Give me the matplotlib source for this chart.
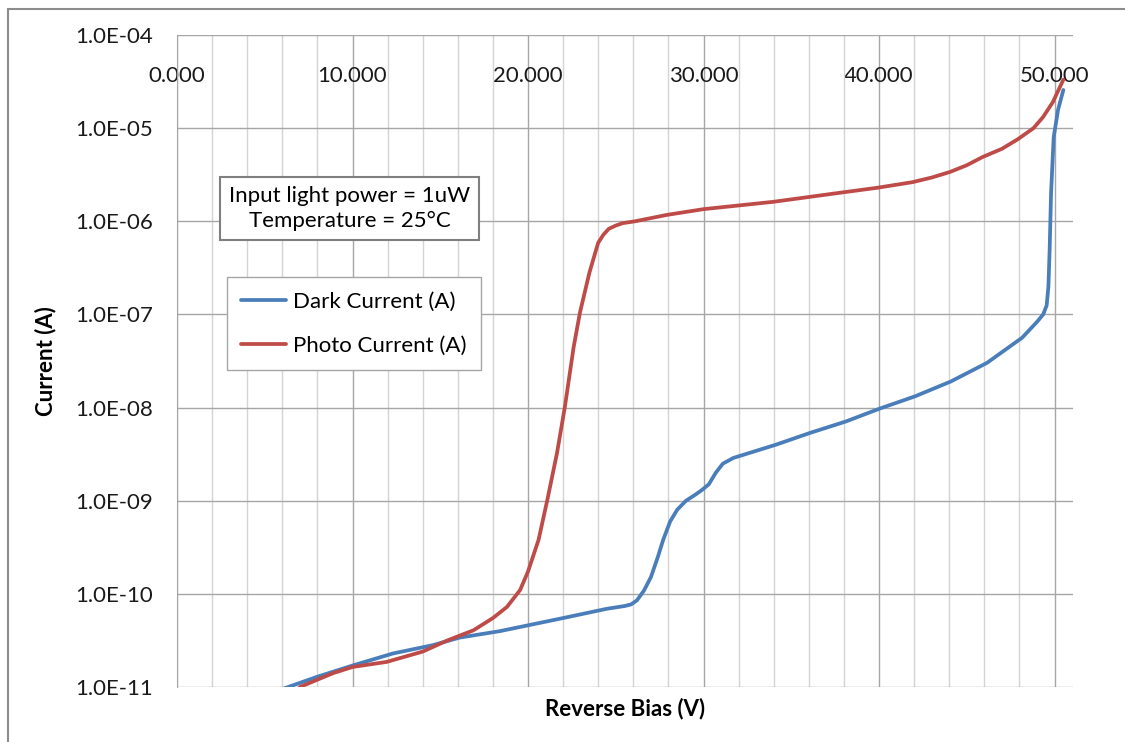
import matplotlib
matplotlib.use("Agg")
import matplotlib.pyplot as plt
from matplotlib.patches import Rectangle
from matplotlib.ticker import FixedLocator, MultipleLocator, FuncFormatter
import numpy as np

plt.rcParams['font.family'] = ['Lato', 'DejaVu Sans']

# reverse bias (V) and current (A)
dark_v = [6.0, 8.0, 10.0, 12.3, 14.6, 16.1, 18.4, 22.0, 24.5, 25.5, 25.87, 26.2, 26.6,
          27.0, 27.4, 27.7, 28.1, 28.5, 29.0, 29.5, 29.9, 30.3, 30.7, 31.1, 31.7,
          34.1, 36.1, 38.1, 40.05, 42.05, 44.1, 46.15, 48.15, 49.0, 49.35, 49.55,
          49.65, 49.72, 49.8, 49.95, 50.2, 50.5]
dark_i = [9.5e-12, 1.29e-11, 1.70e-11, 2.29e-11, 2.82e-11, 3.39e-11, 3.98e-11,
          5.50e-11, 6.92e-11, 7.4e-11, 7.7e-11, 8.5e-11, 1.08e-10, 1.51e-10,
          2.5e-10, 3.8e-10, 6.0e-10, 8.0e-10, 1.0e-9, 1.15e-9, 1.3e-9, 1.5e-9,
          2.0e-9, 2.5e-9, 2.88e-9, 3.98e-9, 5.37e-9, 7.08e-9, 9.77e-9, 1.32e-8,
          1.91e-8, 3.02e-8, 5.62e-8, 8.32e-8, 1.0e-7, 1.25e-7, 2.0e-7, 5.0e-7,
          2.0e-6, 8.0e-6, 1.58e-5, 2.57e-5]

photo_v = [6.9, 7.0, 8.9, 10.0, 11.95, 14.0, 15.4, 16.9, 18.0, 18.8, 19.55, 20.0,
           20.6, 21.1, 21.65, 22.1, 22.6, 22.96, 23.5, 23.8, 24.0, 24.3, 24.6, 25.0,
           25.4, 26.1, 27.9, 30.0, 34.0, 37.9, 39.9, 41.9, 43.0, 44.05, 45.0, 45.9,
           47.0, 47.9, 48.8, 49.35, 49.9, 50.5]
photo_i = [9.5e-12, 1.0e-11, 1.41e-11, 1.64e-11, 1.86e-11, 2.40e-11, 3.16e-11,
           4.07e-11, 5.50e-11, 7.24e-11, 1.10e-10, 1.74e-10, 3.80e-10, 1.02e-9,
           3.24e-9, 1.02e-8, 4.47e-8, 1.05e-7, 2.82e-7, 4.4e-7, 5.89e-7, 7.2e-7,
           8.3e-7, 9.0e-7, 9.55e-7, 1.0e-6, 1.17e-6, 1.35e-6, 1.62e-6, 2.04e-6,
           2.29e-6, 2.63e-6, 2.95e-6, 3.39e-6, 4.0e-6, 4.90e-6, 6.0e-6, 7.59e-6,
           1.0e-5, 1.32e-5, 1.9e-5, 3.31e-5]

x_major = [0, 10, 20, 30, 40, 50]
y_decades = [1e-11, 1e-10, 1e-9, 1e-8, 1e-7, 1e-6, 1e-5, 1e-4]

fig = plt.figure(figsize=(11.25, 7.42), dpi=100)
ax = fig.add_axes([177 / 1125, 1 - 687 / 742, (1073 - 177) / 1125, (687 - 35) / 742])

# outer chart border
fig.patches.append(Rectangle((8 / 1125, -0.1), 1.2, 1 - 9 / 742 + 0.1,
                             transform=fig.transFigure, fill=False,
                             edgecolor='#8c8c8c', linewidth=1.5))

ax.plot(dark_v, dark_i, color='#4a7ebb', linewidth=2.7, label='Dark Current (A)',
        solid_joinstyle='round', solid_capstyle='round', zorder=3)
ax.plot(photo_v, photo_i, color='#be4b48', linewidth=2.7, label='Photo Current (A)',
        solid_joinstyle='round', solid_capstyle='round', zorder=3)

ax.set_yscale('log')
ax.set_ylim(1e-11, 1e-4)
ax.set_xlim(0, 51.05)

ax.yaxis.set_major_locator(FixedLocator(y_decades))
ax.yaxis.set_minor_locator(FixedLocator([]))
ax.yaxis.set_major_formatter(FuncFormatter(lambda v, p: '1.0E-%02d' % round(-np.log10(v))))
ax.xaxis.set_major_locator(FixedLocator(x_major))
ax.xaxis.set_minor_locator(MultipleLocator(2))
ax.xaxis.set_major_formatter(FuncFormatter(lambda v, p: '%.3f' % v))

ax.grid(True, which='major', axis='both', color='#a6a6a6', linewidth=1.0)
ax.grid(True, which='minor', axis='x', color='#d4d4d4', linewidth=1.0)
ax.set_axisbelow(True)

for s in ['top', 'right', 'bottom']:
    ax.spines[s].set_visible(False)
ax.spines['left'].set_color('#a6a6a6')

fs = 16
ax.tick_params(axis='y', which='both', length=0, pad=17, labelsize=fs, colors='#1a1a1a')
ax.tick_params(axis='x', which='both', length=0, top=False, bottom=False,
               labeltop=True, labelbottom=False, pad=-37, labelsize=fs, colors='#1a1a1a')

ax.set_xlabel('Reverse Bias (V)', fontsize=fs, fontweight='bold', labelpad=8)
ax.xaxis.set_label_position('bottom')
ax.set_ylabel('Current (A)', fontsize=fs, fontweight='bold', labelpad=14)

ax.text(349.5 / 1125, 1 - 208.5 / 742, 'Input light power = 1uW\nTemperature = 25\u00b0C',
        transform=fig.transFigure, ha='center', va='center', fontsize=fs,
        linespacing=1.3,
        bbox=dict(boxstyle='square,pad=0.42', facecolor='white', edgecolor='#7f7f7f',
                  linewidth=1.5))

leg = ax.legend(loc='upper left', bbox_to_anchor=((227 - 177) / 896, 1 - (277 - 35) / 652),
                fontsize=fs, frameon=True, fancybox=False, framealpha=1,
                edgecolor='#a6a6a6', handlelength=2.0, handletextpad=0.3,
                borderpad=0.65, labelspacing=1.1, borderaxespad=0)
leg.get_frame().set_linewidth(1.0)

fig.savefig('out.png', dpi=100)
